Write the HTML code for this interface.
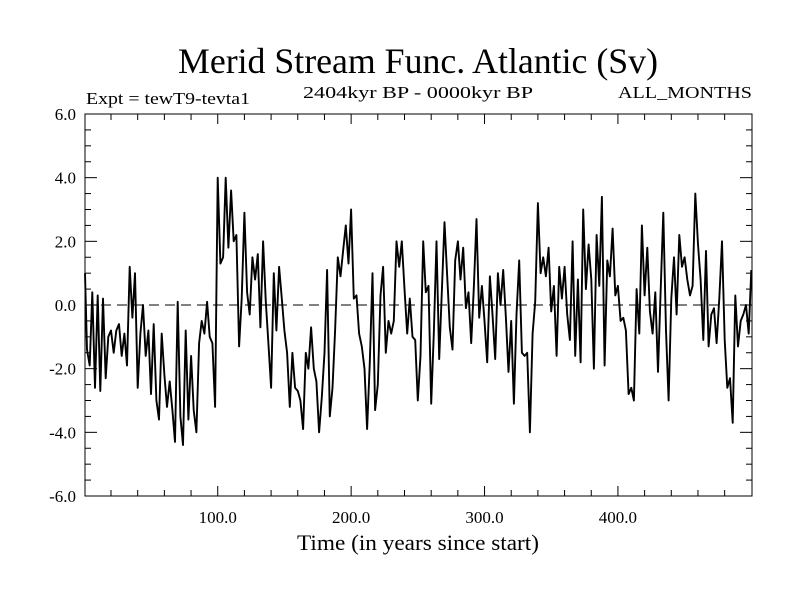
<!DOCTYPE html>
<html><head><meta charset="utf-8"><style>
html,body{margin:0;padding:0;background:#fff;}
svg text{font-family:"Liberation Serif",serif;fill:#000;}
</style></head><body>
<svg id="chart" width="800" height="600" viewBox="0 0 800 600" xmlns="http://www.w3.org/2000/svg">
<rect width="800" height="600" fill="#fff"/>
<text x="418" y="73" font-size="36" text-anchor="middle" textLength="480" lengthAdjust="spacingAndGlyphs">Merid Stream Func. Atlantic (Sv)</text>
<text x="86" y="104" font-size="17" textLength="164" lengthAdjust="spacingAndGlyphs">Expt = tewT9-tevta1</text>
<text x="418" y="98" font-size="17" text-anchor="middle" textLength="230" lengthAdjust="spacingAndGlyphs">2404kyr BP - 0000kyr BP</text>
<text x="752" y="98" font-size="17" text-anchor="end" textLength="134" lengthAdjust="spacingAndGlyphs">ALL_MONTHS</text>
<g id="axes"></g>
<line id="zero" stroke="#000" stroke-width="1" stroke-dasharray="10,6"/>
<path id="series" fill="none" stroke="#000" stroke-width="1.9" stroke-linejoin="round"/>
<rect x="85" y="114" width="667" height="382" fill="none" stroke="#000" stroke-width="1"/>
<text x="418" y="550" font-size="22" text-anchor="middle" textLength="242" lengthAdjust="spacingAndGlyphs">Time (in years since start)</text>
</svg>
<script>
const startYear = 0;
const stepYears = 2;
const values = [
1.0,-1.4,-1.9,0.4,-2.6,0.3,-2.7,0.2,-2.3,-1.0,-0.8,-1.5,-0.8,-0.6,-1.6,-0.9,-1.9,1.2,-0.4,1.0,
-2.6,-0.9,0.0,-1.6,-0.8,-2.8,-0.6,-3.0,-3.6,-0.9,-2.2,-3.2,-2.4,-3.3,-4.3,0.1,-3.5,-4.4,-0.8,-3.6,
-1.6,-3.3,-4.0,-1.2,-0.5,-0.9,0.1,-1.0,-1.2,-3.2,4.0,1.3,1.5,4.0,1.8,3.6,2.0,2.2,-1.3,
0.2,2.9,0.4,-0.3,1.5,0.8,1.6,-0.7,2.0,0.1,-1.2,-2.6,1.0,-0.8,1.2,0.2,-0.8,-1.5,-3.2,-1.5,
-2.6,-2.7,-3.0,-3.9,-1.5,-2.0,-0.7,-2.0,-2.4,-4.0,-2.9,-1.5,1.1,-3.5,-2.6,-0.8,1.5,0.9,1.7,2.5,
1.3,3.0,0.2,0.3,-0.9,-1.3,-2.0,-3.9,-1.8,1.0,-3.3,-2.5,0.3,1.2,-1.5,-0.5,-0.9,-0.5,2.0,1.2,
2.0,0.5,-0.9,0.2,
-1.0,-1.1,-3.0,-1.6,2.0,0.4,0.6,-3.1,-0.9,2.0,-1.7,0.4,2.6,0.9,-0.7,-1.4,1.4,2.0,0.8,1.8,
-0.1,0.4,-1.2,0.6,2.7,-0.4,0.6,-0.5,-1.8,0.9,-0.3,-1.7,1.0,0.0,1.1,-0.4,-2.1,-0.5,-3.1,-0.3,
1.4,-1.5,-1.6,-1.5,-4.0,-0.9,0.1,3.2,1.0,1.5,0.9,1.8,-0.2,0.6,-1.6,1.2,0.2,1.2,-0.3,-1.1,
2.0,-1.6,0.8,-1.8,
3.0,0.5,1.9,0.8,-2.0,2.2,0.6,3.4,-1.9,1.4,0.9,2.4,0.3,0.6,-0.5,-0.4,-0.8,-2.8,-2.6,-3.0,
0.5,-0.9,2.5,0.3,1.8,-0.2,-0.9,0.4,-2.1,0.4,2.9,-0.8,-3.0,0.2,1.5,-0.3,2.2,1.2,1.5,0.8,
0.3,0.6,3.5,1.9,0.8,-1.1,1.7,-1.3,-0.3,-0.1,-1.2,0.2,2.0,-1.1,-2.6,-2.3,-3.7,0.3,-1.3,-0.5,
-0.3,0.0,-0.9,1.1
];
const xTickValues = [100,200,300,400];
const xTickLabels = ["100.0","200.0","300.0","400.0"];
const yTickValues = [-6,-4,-2,0,2,4,6];
const yTickLabels = ["-6.0","-4.0","-2.0","0.0","2.0","4.0","6.0"];

const L=85,R=752,T=114,B=496, xMin=0.5,xMax=500.5, yMin=-6,yMax=6;
function xs(v){return L+(v-xMin)/(xMax-xMin)*(R-L);}
function ys(v){return B-(v-yMin)/(yMax-yMin)*(B-T);}
const NS='http://www.w3.org/2000/svg';
const axes=document.getElementById('axes');
function ln(x1,y1,x2,y2,name){const l=document.createElementNS(NS,'line');l.setAttribute('x1',x1);l.setAttribute('y1',y1);l.setAttribute('x2',x2);l.setAttribute('y2',y2);l.setAttribute('stroke','#000');l.setAttribute('stroke-width','1');


axes.appendChild(l);}
function tx(x,y,s,anchor,name){const t=document.createElementNS(NS,'text');t.setAttribute('x',x);t.setAttribute('y',y);t.setAttribute('font-size','17');t.setAttribute('text-anchor',anchor);t.textContent=s;


axes.appendChild(t);}
for(let v=20;v<500;v+=20){const x=xs(v);const major=(v%100===0);const len=major?10:6;
ln(x,B,x,B-len,'x-tick');ln(x,T,x,T+len,'x-tick-top');}
for(let v=-5.5;v<6;v+=0.5){const y=ys(v);const major=(Math.abs(v%2)<1e-9);const len=major?12:6;
ln(L,y,L+len,y,'y-tick');ln(R,y,R-len,y,'y-tick-right');}
xTickValues.forEach((v,i)=>tx(xs(v),523,xTickLabels[i],'middle','x-tick-label'));
yTickValues.forEach((v,i)=>tx(76,ys(v)+6,yTickLabels[i],'end','y-tick-label'));
const z=document.getElementById('zero');
z.setAttribute('x1',L);z.setAttribute('x2',R);z.setAttribute('y1',ys(0));z.setAttribute('y2',ys(0));
let d='';
values.forEach((v,i)=>{const yr=startYear+i*stepYears;d+=(i?'L':'M')+xs(Math.max(yr,xMin)).toFixed(1)+','+ys(v).toFixed(1);});
document.getElementById('series').setAttribute('d',d);
</script>
</body></html>
